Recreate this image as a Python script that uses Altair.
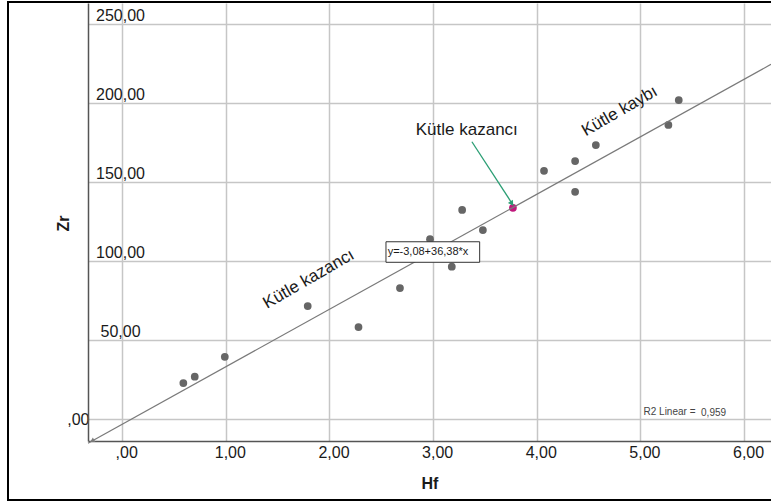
import altair as alt
import pandas as pd

# ---- data ----
hf = [0.59, 0.70, 0.99, 1.79, 2.28, 2.68, 2.97, 3.18, 3.28, 3.48, 3.77, 4.07, 4.37, 4.37, 4.57, 5.27, 5.37]
zr = [23.0, 27.0, 39.6, 71.7, 58.4, 83.1, 114.0, 96.6, 132.5, 119.8, 133.9, 157.3, 163.5, 144.0, 173.6, 186.3, 202.1]
group = ["n"] * 10 + ["m"] + ["n"] * 6

intercept = -3.08
slope = 36.38
fit_x = [-0.33, 6.26]
fit_arrow_x = [-0.29]

x_ticks = [0, 1, 2, 3, 4, 5, 6]
y_ticks = [0, 50, 100, 150, 200, 250]

ann_text = ["Kütle kazancı", "Kütle kaybı"]
ann_x = [1.80, 4.80]
ann_y = [88.8, 195.1]

callout_text = ["Kütle kazancı"]
callout_x = [3.325]
callout_y = [183.1]
arrow_x = [3.374, 3.772]
arrow_y = [175.7, 135.6]
arrow_head_x = [3.759]
arrow_head_y = [136.6]

eq_label = ["y=-3,08+36,38*x"]
eq_box_x = [2.545, 3.449]
eq_box_y = [99.4, 112.4]
eq_text_x = [2.561]
eq_text_y = [105.9]

r2_label = ["R2 Linear =", "0,959"]
r2_x = [5.03, 5.585]
r2_y = [4.6, 4.0]

FONT = "Liberation Sans"
X_DOMAIN = [-0.33, 6.26]
Y_DOMAIN = [-13.7, 263.5]

pts = pd.DataFrame({"Hf": hf, "Zr": zr, "g": group})
fit = pd.DataFrame({"Hf": fit_x})
fit_head = pd.DataFrame({"Hf": fit_arrow_x})
ann = pd.DataFrame({"t": ann_text, "Hf": ann_x, "Zr": ann_y})
callout = pd.DataFrame({"t": callout_text, "Hf": callout_x, "Zr": callout_y})
arrow = pd.DataFrame({"Hf": arrow_x, "Zr": arrow_y, "o": [0, 1]})
arrow_head = pd.DataFrame({"Hf": arrow_head_x, "Zr": arrow_head_y})
eq_box = pd.DataFrame({"x1": [eq_box_x[0]], "x2": [eq_box_x[1]], "y1": [eq_box_y[0]], "y2": [eq_box_y[1]]})
eq_txt = pd.DataFrame({"t": eq_label, "Hf": eq_text_x, "Zr": eq_text_y})
r2 = pd.DataFrame({"t": r2_label, "Hf": r2_x, "Zr": r2_y})

num_expr = "datum.value === 0 ? ',00' : replace(format(datum.value, '.2f'), '.', ',')"

x_axis = alt.Axis(
    values=x_ticks, labelExpr=num_expr, grid=True, gridColor="#c6c6c6", gridWidth=1.5,
    ticks=False, tickSize=0, domainColor="#555555", domainWidth=1.5,
    labelFont=FONT, labelFontSize=16, labelColor="#1a1a1a", labelPadding=3,
    labelOffset=4, labelBaseline="top", labelAlign="center",
    title="Hf", titleFont=FONT, titleFontSize=16, titleFontWeight="bold", titleColor="#1a1a1a",
    titleX=341.5, titleY=42, titleBaseline="middle", titleAlign="center",
)
y_axis = alt.Axis(
    values=y_ticks, labelExpr=num_expr, grid=True, gridColor="#c6c6c6", gridWidth=1.5,
    ticks=False, tickSize=0, domainColor="#555555", domainWidth=1.5,
    labelFont=FONT, labelFontSize=16, labelColor="#1a1a1a",
    labelAlign={"condition": {"test": "datum.value === 0", "value": "right"}, "value": "center"},
    labelBaseline={"condition": {"test": "datum.value === 0", "value": "middle"}, "value": "alphabetic"},
    labelPadding={"condition": {"test": "datum.value === 0", "value": -1}, "value": -32},
    labelOffset={"condition": {"test": "datum.value === 0", "value": 0}, "value": -4},
    title="Zr", titleFont=FONT, titleFontSize=16, titleFontWeight="bold", titleColor="#1a1a1a",
    titleX=-25, titleY=220, titleAngle=270, titleBaseline="middle", titleAlign="center",
)

xs = alt.Scale(domain=X_DOMAIN, nice=False, zero=False)
ys = alt.Scale(domain=Y_DOMAIN, nice=False, zero=False)

frame = alt.Chart(pd.DataFrame({"a": [0]})).mark_rect(
    fill=None, stroke="#000000", strokeWidth=2
).encode(x=alt.value(-80), x2=alt.value(720), y=alt.value(-1), y2=alt.value(497))

base_pts = alt.Chart(pts).mark_circle(size=60, opacity=1).encode(
    x=alt.X("Hf:Q", scale=xs, axis=x_axis),
    y=alt.Y("Zr:Q", scale=ys, axis=y_axis),
    color=alt.Color("g:N", scale=alt.Scale(domain=["n", "m"], range=["#666666", "#c0187c"]), legend=None),
)

fit_line = alt.Chart(fit).transform_calculate(
    Zr=f"{intercept} + {slope} * datum.Hf"
).mark_line(color="#7a7a7a", strokeWidth=1.2).encode(x=alt.X("Hf:Q", scale=xs), y=alt.Y("Zr:Q", scale=ys))

fit_tip = alt.Chart(fit_head).transform_calculate(
    Zr=f"{intercept} + {slope} * datum.Hf"
).mark_point(shape="triangle-left", angle=331, filled=True, size=28, color="#7a7a7a", opacity=1).encode(
    x=alt.X("Hf:Q", scale=xs), y=alt.Y("Zr:Q", scale=ys))

ann_layer = alt.Chart(ann).mark_text(
    font=FONT, fontSize=17, angle=330, color="#1a1a1a", align="center", baseline="middle"
).encode(x=alt.X("Hf:Q", scale=xs), y=alt.Y("Zr:Q", scale=ys), text="t:N")

callout_layer = alt.Chart(callout).mark_text(
    font=FONT, fontSize=17, color="#1a1a1a", align="center", baseline="middle"
).encode(x=alt.X("Hf:Q", scale=xs), y=alt.Y("Zr:Q", scale=ys), text="t:N")

arrow_line = alt.Chart(arrow).mark_line(color="#2b9e74", strokeWidth=1.3).encode(
    x=alt.X("Hf:Q", scale=xs), y=alt.Y("Zr:Q", scale=ys), order="o:Q")

arrow_tip = alt.Chart(arrow_head).mark_point(
    shape="triangle-down", angle=327, filled=True, size=36, color="#2b9e74", opacity=1
).encode(x=alt.X("Hf:Q", scale=xs), y=alt.Y("Zr:Q", scale=ys))

eq_rect = alt.Chart(eq_box).mark_rect(fill="white", stroke="#333333", strokeWidth=1).encode(
    x=alt.X("x1:Q", scale=xs), x2="x2:Q", y=alt.Y("y1:Q", scale=ys), y2="y2:Q")

eq_text = alt.Chart(eq_txt).mark_text(
    font=FONT, fontSize=11, color="#1a1a1a", align="left", baseline="middle"
).encode(x=alt.X("Hf:Q", scale=xs), y=alt.Y("Zr:Q", scale=ys), text="t:N")

r2_text = alt.Chart(r2).mark_text(
    font=FONT, fontSize=10, color="#444444", align="left", baseline="middle"
).encode(x=alt.X("Hf:Q", scale=xs), y=alt.Y("Zr:Q", scale=ys), text="t:N")

chart = alt.layer(
    base_pts, fit_line, fit_tip, arrow_line, arrow_tip, eq_rect, eq_text,
    ann_layer, callout_layer, r2_text, frame
).properties(
    width=683, height=438,
    padding={"left": 88, "top": 3, "right": 0, "bottom": 60},
    autosize="none", background="white",
).configure_view(stroke=None)

chart.save("out.html", embed_options={"renderer": "svg", "actions": False})
